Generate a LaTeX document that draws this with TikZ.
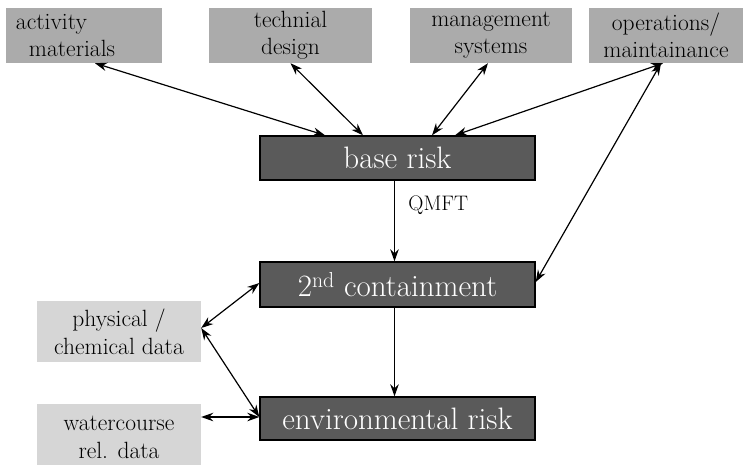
\documentclass[tikz,border=0pt]{standalone}
\usetikzlibrary{arrows.meta, positioning}
\definecolor{topgray}{HTML}{ABABAB}
\definecolor{riskgray}{HTML}{5A5A5A}
\definecolor{datagray}{HTML}{D6D6D6}

\begin{document}
\begin{tikzpicture}[x=1pt, y=-1pt, >={Stealth[length=12pt, width=8.5pt]},
  topbox/.style={fill=topgray, text=black, inner sep=0pt, align=center,
    font=\fontsize{23.5}{27}\selectfont},
  riskbox/.style={fill=riskgray, draw=black, line width=1.4pt, text=white,
    inner sep=0pt, minimum width=275pt, font=\fontsize{31}{34}\selectfont},
  databox/.style={fill=datagray, text=black, inner sep=0pt, align=center,
    minimum width=164pt, font=\fontsize{23.5}{28}\selectfont},
  link/.style={<->, line width=1.2pt}]
  \useasboundingbox (0,0) rectangle (746,464);
  \clip (0,0) rectangle (746,464);

  % Influencing factors (top row)
  \node[topbox, minimum width=156pt, minimum height=55pt, text width=136pt,
        align=left] (act) at (84,35.5) {activity\\\hspace*{13pt}materials};
  \node[topbox, minimum width=163pt, minimum height=55pt] (tech) at (290.5,35.5) {technial\\design};
  \node[topbox, minimum width=162pt, minimum height=55pt] (mgmt) at (491,35.5) {management\\systems};
  \node[topbox, minimum width=154pt, minimum height=55pt] (ops) at (666,35.5) {operations/\\maintainance};

  % Risk chain
  \node[riskbox, minimum height=44pt] (base) at (397.5,158) {base risk};
  \node[riskbox, minimum height=45pt] (cont) at (397.5,284.5) {2\textsuperscript{nd} containment};
  \node[riskbox, minimum height=43pt] (env) at (397.5,418.5) {environmental risk};

  % Data sources (left)
  \node[databox, minimum height=61pt] (phys) at (119,331.5) {physical /\\chemical data};
  \node[databox, minimum height=66pt] (water) at (119,437) {watercourse\\rel. data};

  % Links to base risk
  \draw[link] ([xshift=11pt]act.south) -- ([xshift=-72.5pt]base.north);
  \draw[link] (tech.south) -- ([xshift=-34.5pt]base.north);
  \draw[link] ([xshift=-3pt]mgmt.south) -- ([xshift=34.5pt]base.north);
  \draw[link] ([xshift=-3pt]ops.south) -- ([xshift=57.5pt]base.north);
  \draw[link] ([xshift=-5pt]ops.south) -- ([yshift=2.5pt]cont.east);

  % Risk chain arrows
  \draw[->, line width=1.2pt] ([xshift=-3pt]base.south) -- ([xshift=-3pt]cont.north)
    node[pos=0.3, right=10pt, font=\fontsize{21}{24}\selectfont] (qmft) {QMFT};
  \draw[->, line width=1.2pt] ([xshift=-3pt]cont.south) -- ([xshift=-3pt]env.north);

  % Data links
  \draw[link] ([yshift=3.5pt]phys.east) -- ([yshift=1.5pt]cont.west);
  \draw[link] ([yshift=3.5pt]phys.east) -- ([yshift=1.5pt]env.west);
  \draw[link] ([yshift=1.5pt]env.west) -- ([yshift=1.5pt]env.west -| water.east);
\end{tikzpicture}
\end{document}
